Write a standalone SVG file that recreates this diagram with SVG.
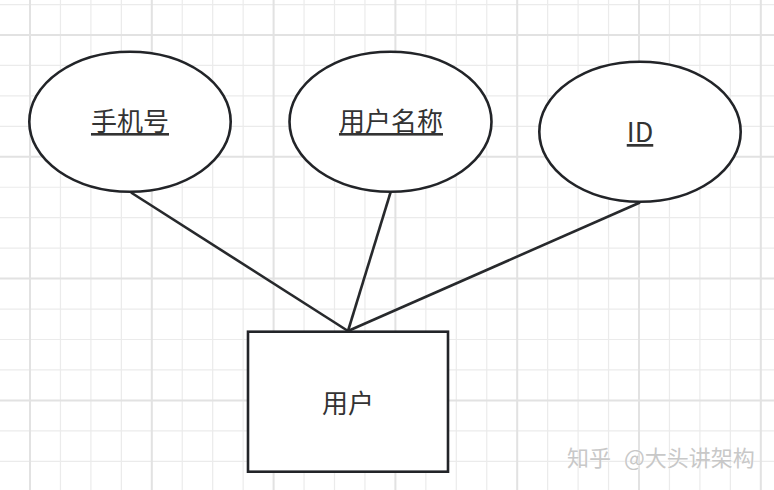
<svg xmlns="http://www.w3.org/2000/svg" width="774" height="490" viewBox="0 0 774 490">
<style>
.minor{stroke:#ebebeb;stroke-width:1.2;fill:none}
.major{stroke:#e2e2e2;stroke-width:2;fill:none}
.shape{fill:#ffffff;stroke:#222428;stroke-width:2.6}
.edge{stroke:#27292c;stroke-width:2.6;fill:none}
.lbl{font-family:"Noto Sans CJK SC","Noto Sans",sans-serif;font-size:26px;fill:#333333;text-anchor:middle}
.u{text-decoration:underline}
.wm{font-family:"Noto Sans CJK SC","Noto Sans",sans-serif;font-size:22px;fill:#c8c8c8;stroke:#ffffff;stroke-width:0.6;paint-order:stroke}
</style>
<rect x="0" y="0" width="774" height="490" fill="#ffffff"/>
<g id="grid">
<path class="minor" d="M60.45 0V490M90.9 0V490M121.35 0V490M182.25 0V490M212.7 0V490M243.15 0V490M304.05 0V490M334.5 0V490M364.95 0V490M425.85 0V490M456.3 0V490M486.75 0V490M547.65 0V490M578.1 0V490M608.55 0V490M669.45 0V490M699.9 0V490M730.35 0V490M0 4.55H774M0 65.45H774M0 95.9H774M0 126.35H774M0 187.25H774M0 217.7H774M0 248.15H774M0 309.05H774M0 339.5H774M0 369.95H774M0 430.85H774M0 461.3H774"/>
<path class="major" d="M30 0V490M151.8 0V490M273.6 0V490M395.4 0V490M517.2 0V490M639 0V490M760.8 0V490M0 35H774M0 156.8H774M0 278.6H774M0 400.4H774"/>
</g>
<g id="connectors">
<path class="edge" d="M131 192.5L348 331"/>
<path class="edge" d="M390.5 192.5L348 331"/>
<path class="edge" d="M640 202.5L348 331"/>
</g>
<g id="node-phone">
<ellipse class="shape" cx="130" cy="121.7" rx="100.7" ry="70"/>
<text class="lbl u" x="130" y="131">手机号</text>
</g>
<g id="node-username">
<ellipse class="shape" cx="390.5" cy="121.7" rx="101" ry="70"/>
<text class="lbl u" x="391" y="131">用户名称</text>
</g>
<g id="node-id">
<ellipse class="shape" cx="640" cy="131.7" rx="100.7" ry="70"/>
<text class="lbl u" x="640" y="142" style="font-size:27px">ID</text>
</g>
<g id="node-user">
<rect class="shape" x="248" y="331.7" width="200" height="140"/>
<text class="lbl" x="348" y="413">用户</text>
</g>
<text class="wm" y="466"><tspan x="567">知乎</tspan><tspan x="624">@大头讲架构</tspan></text>
</svg>
